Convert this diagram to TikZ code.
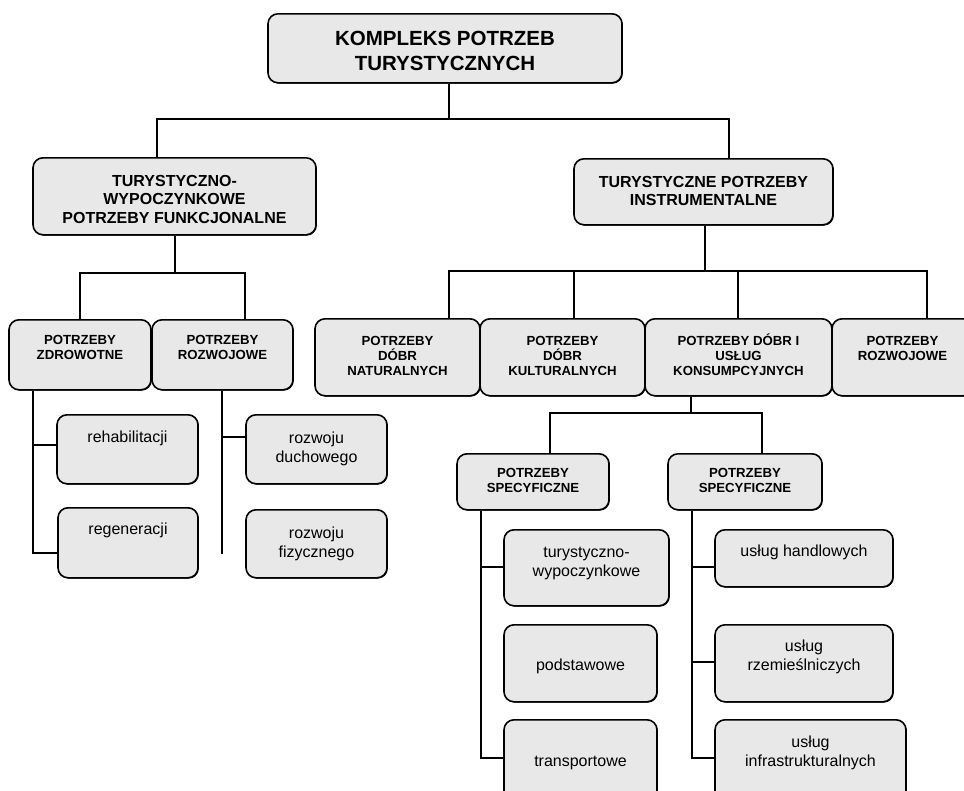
\documentclass[tikz,border=0pt]{standalone}
\usepackage{fontspec}
\setmainfont{Liberation Sans}
\usetikzlibrary{shadows}
\definecolor{boxgray}{HTML}{E8E8E8}
\tikzset{
  box/.style={draw, line width=1.6pt, rounded corners=10pt, fill=boxgray, align=center,
    inner sep=0pt, anchor=north,
    drop shadow={shadow xshift=0.8pt, shadow yshift=-0.8pt, fill=black, opacity=1}},
  top/.style={box, font=\bfseries\fontsize{20.5}{25}\selectfont},
  head/.style={box, font=\bfseries\fontsize{16}{18.5}\selectfont},
  sub/.style={box, font=\bfseries\fontsize{13.2}{15}\selectfont},
  leaf/.style={box, font=\fontsize{16}{19}\selectfont},
  line/.style={line width=1.8pt}
}
\begin{document}
\begin{tikzpicture}[x=1pt, y=-1pt]
  \fill[white] (0,0) rectangle (964,790);
  \useasboundingbox (0,0) rectangle (964,790);

  \node[top, minimum width=354pt, text height=57pt, text depth=12pt] (kompleks) at (445,13) {KOMPLEKS POTRZEB\\TURYSTYCZNYCH};

  \node[head, minimum width=283pt, text height=65.5pt, text depth=11.5pt] (funk) at (174.5,157) {TURYSTYCZNO-\\WYPOCZYNKOWE\\POTRZEBY FUNKCJONALNE};
  \node[head, minimum width=259pt, text height=47pt, text depth=19pt] (instr) at (703.5,158) {TURYSTYCZNE POTRZEBY\\INSTRUMENTALNE};

  \node[sub, minimum width=142pt, text height=40pt, text depth=30pt] (zdrow) at (80,319) {POTRZEBY\\ZDROWOTNE};
  \node[sub, minimum width=141pt, text height=40pt, text depth=30pt] (rozw) at (222.5,319) {POTRZEBY\\ROZWOJOWE};

  \node[sub, minimum width=165pt, text height=56.5pt, text depth=20.5pt] (nat) at (397.5,318) {POTRZEBY\\DÓBR\\NATURALNYCH};
  \node[sub, minimum width=165pt, text height=56.5pt, text depth=20.5pt] (kult) at (562.5,318) {POTRZEBY\\DÓBR\\KULTURALNYCH};
  \node[sub, minimum width=187pt, text height=56.5pt, text depth=20.5pt] (kons) at (738.5,318) {POTRZEBY DÓBR I\\USŁUG\\KONSUMPCYJNYCH};
  \node[sub, minimum width=141pt, text height=41.5pt, text depth=35.5pt] (ros) at (902.5,318) {POTRZEBY\\ROZWOJOWE};

  \node[sub, minimum width=152pt, text height=39pt, text depth=17pt] (spec1) at (533,453) {POTRZEBY\\SPECYFICZNE};
  \node[sub, minimum width=154pt, text height=39pt, text depth=17pt] (spec2) at (745,453) {POTRZEBY\\SPECYFICZNE};

  \node[leaf, minimum width=141pt, text height=28pt, text depth=41pt] (rehab) at (127.5,414) {rehabilitacji};
  \node[leaf, minimum width=140pt, text height=27pt, text depth=43pt] (regen) at (128,507) {regeneracji};
  \node[leaf, minimum width=141pt, text height=48pt, text depth=21pt] (duch) at (316.5,414) {rozwoju\\duchowego};
  \node[leaf, minimum width=141pt, text height=48pt, text depth=20pt] (fiz) at (316.5,509) {rozwoju\\fizycznego};

  \node[leaf, minimum width=165pt, text height=47pt, text depth=29pt] (tur) at (586.5,529) {turystyczno-\\wypoczynkowe};
  \node[leaf, minimum width=153pt, text height=46pt, text depth=31pt] (podst) at (580.5,624) {podstawowe};
  \node[leaf, minimum width=153pt, text height=47pt, text depth=34pt] (trans) at (580.5,719) {transportowe};

  \node[leaf, minimum width=178pt, text height=27pt, text depth=30pt] (hand) at (804,529) {usług handlowych};
  \node[leaf, minimum width=178pt, text height=46pt, text depth=31pt] (rzem) at (804,624) {usług\\rzemieślniczych};
  \node[leaf, minimum width=191pt, text height=47pt, text depth=34pt] (infra) at (810.5,719) {usług\\infrastrukturalnych};

  \coordinate (j0) at (449,119);
  \coordinate (j1) at (175,273);
  \coordinate (j2) at (705,271);
  \coordinate (j3) at (691,413);

  \draw[line] (kompleks.south -| j0) -- (j0);
  \draw[line] (funk.north -| 157,0) |- (j0) -| (instr.north -| 729,0);

  \draw[line] (funk.south -| j1) -- (j1);
  \draw[line] (zdrow.north) |- (j1) -| (rozw.north -| 245,0);

  \draw[line] (instr.south -| j2) -- (j2);
  \draw[line] (nat.north -| 449,0) |- (j2) -| (ros.north -| 927,0);
  \draw[line] (kult.north -| 574,0) -- (j2 -| 574,0);
  \draw[line] (kons.north -| 738,0) -- (j2 -| 738,0);

  \draw[line] (kons.south -| j3) -- (j3);
  \draw[line] (spec1.north -| 550,0) |- (j3) -| (spec2.north -| 762,0);

  \draw[line] (zdrow.south -| 33,0) |- (rehab.west |- 0,445);
  \draw[line] (zdrow.south -| 33,0) |- (regen.west |- 0,553);
  \draw[line] (rozw.south -| 222,0) -- (222,554);
  \draw[line] (222,437) -- (duch.west |- 0,437);

  \draw[line] (spec1.south -| 481,0) |- (tur.west |- 0,567);
  \draw[line] (spec1.south -| 481,0) |- (trans.west |- 0,758);

  \draw[line] (spec2.south -| 692,0) |- (hand.west |- 0,567);
  \draw[line] (692,662) -- (rzem.west |- 0,662);
  \draw[line] (spec2.south -| 692,0) |- (infra.west |- 0,758);
\end{tikzpicture}
\end{document}
